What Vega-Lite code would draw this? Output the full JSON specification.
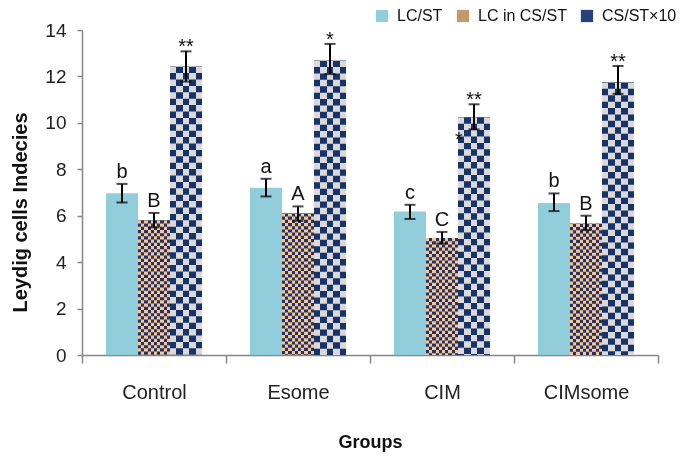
{
  "$schema": "https://vega.github.io/schema/vega-lite/v6.json",
  "width": 576,
  "height": 325,
  "autosize": "none",
  "padding": {"left": 82, "top": 30, "right": 27, "bottom": 102},
  "background": "white",
  "config": {
    "view": {"stroke": null},
    "font": "Liberation Sans"
  },
  "data": {
    "values": [
      {"Group": "Control", "Series": "LC/ST", "value": 6.97, "lower": 6.57, "upper": 7.37, "sig": "b"},
      {"Group": "Control", "Series": "LC in CS/ST", "value": 5.8, "lower": 5.5, "upper": 6.12, "sig": "B"},
      {"Group": "Control", "Series": "CS/ST×10", "value": 12.42, "lower": 11.78, "upper": 13.08, "sig": "**"},
      {"Group": "Esome", "Series": "LC/ST", "value": 7.21, "lower": 6.83, "upper": 7.59, "sig": "a"},
      {"Group": "Esome", "Series": "LC in CS/ST", "value": 6.1, "lower": 5.78, "upper": 6.4, "sig": "A"},
      {"Group": "Esome", "Series": "CS/ST×10", "value": 12.68, "lower": 12.1, "upper": 13.4, "sig": "*"},
      {"Group": "CIM", "Series": "LC/ST", "value": 6.18, "lower": 5.86, "upper": 6.47, "sig": "c"},
      {"Group": "CIM", "Series": "LC in CS/ST", "value": 5.04, "lower": 4.8, "upper": 5.3, "sig": "C"},
      {"Group": "CIM", "Series": "CS/ST×10", "value": 10.24, "lower": 9.72, "upper": 10.8, "sig": "**"},
      {"Group": "CIMsome", "Series": "LC/ST", "value": 6.55, "lower": 6.2, "upper": 6.96, "sig": "b"},
      {"Group": "CIMsome", "Series": "LC in CS/ST", "value": 5.65, "lower": 5.38, "upper": 6.0, "sig": "B"},
      {"Group": "CIMsome", "Series": "CS/ST×10", "value": 11.74, "lower": 11.25, "upper": 12.45, "sig": "**"}
    ]
  },
  "encoding": {
    "x": {
      "field": "Group", "type": "nominal", "sort": ["Control", "Esome", "CIM", "CIMsome"],
      "scale": {"paddingInner": 0, "paddingOuter": 0},
      "axis": {
        "title": "Groups", "labelAngle": 0, "tickBand": "extent",
        "domainColor": "#868686", "domainWidth": 1.5, "tickColor": "#868686", "tickSize": 8, "tickWidth": 1.5,
        "labelFont": "Liberation Sans", "labelFontSize": 20, "labelColor": "#222", "labelPadding": 19,
        "titleFont": "Liberation Sans", "titleFontSize": 18, "titleFontWeight": "bold", "titleColor": "#111", "titlePadding": 31
      }
    },
    "xOffset": {
      "field": "Series", "type": "nominal",
      "scale": {"domain": ["LC/ST", "LC in CS/ST", "CS/ST×10"], "paddingInner": 0, "paddingOuter": 0.75}
    }
  },
  "layer": [
    {
      "transform": [{"filter": "datum.Series === 'LC/ST'"}],
      "mark": {"type": "bar"},
      "encoding": {
        "y": {
          "field": "value", "type": "quantitative", "title": "Leydig cells Indecies",
          "scale": {"domain": [0, 14], "nice": false},
          "axis": {
            "title": "Leydig cells Indecies", "values": [0, 2, 4, 6, 8, 10, 12, 14], "grid": false,
            "domainColor": "#868686", "domainWidth": 1.5, "tickColor": "#868686", "tickSize": 5, "tickWidth": 1.5,
            "labelFont": "Liberation Sans", "labelFontSize": 19, "labelColor": "#222", "labelPadding": 11,
            "titleFont": "Liberation Sans", "titleFontSize": 20, "titleFontWeight": "bold", "titleColor": "#111",
            "titlePadding": 14, "titleY": 182
          }
        },
        "color": {
          "field": "Series", "type": "nominal",
          "scale": {"domain": ["LC/ST", "LC in CS/ST", "CS/ST×10"], "range": ["#92cddc", "#c39a6c", "#23427a"]},
          "legend": {
            "title": null, "orient": "none", "legendX": 292, "legendY": -22, "direction": "horizontal",
            "symbolType": "square", "symbolSize": 150, "symbolStrokeWidth": 0,
            "labelFont": "Liberation Sans", "labelFontSize": 16, "labelColor": "#111",
            "labelOffset": 7, "columnPadding": 12
          }
        }
      }
    },
    {
      "transform": [{"filter": "datum.Series === 'CS/ST×10'"}],
      "mark": {
        "type": "bar",
        "fill": {"gradient": "linear", "x1": 0, "y1": 0, "x2": 1, "y2": 0, "stops": [
          {"offset": 0, "color": "black"}, {"offset": 0.2, "color": "black"},
          {"offset": 0.2, "color": "white"}, {"offset": 0.4, "color": "white"},
          {"offset": 0.4, "color": "black"}, {"offset": 0.6, "color": "black"},
          {"offset": 0.6, "color": "white"}, {"offset": 0.8, "color": "white"},
          {"offset": 0.8, "color": "black"}, {"offset": 1, "color": "black"}
        ]}
      },
      "encoding": {"y": {"field": "value", "type": "quantitative", "title": "Leydig cells Indecies"}}
    },
    {
      "transform": [{"filter": "datum.Series === 'CS/ST×10'"}],
      "mark": {"type": "rule", "stroke": "white", "strokeWidth": 32, "strokeCap": "butt", "strokeDash": [6.4, 6.4], "blend": "difference"},
      "encoding": {"y": {"field": "value", "type": "quantitative", "title": "Leydig cells Indecies"}, "y2": {"datum": 0}}
    },
    {
      "transform": [{"filter": "datum.Series === 'CS/ST×10'"}],
      "mark": {"type": "bar", "fill": "#1d3b7b", "blend": "screen"},
      "encoding": {"y": {"field": "value", "type": "quantitative", "title": "Leydig cells Indecies"}}
    },
    {
      "transform": [{"filter": "datum.Series === 'CS/ST×10'"}],
      "mark": {"type": "bar", "fill": "#dadada", "blend": "multiply"},
      "encoding": {"y": {"field": "value", "type": "quantitative", "title": "Leydig cells Indecies"}}
    },
    {
      "transform": [{"filter": "datum.Series === 'LC in CS/ST'"}],
      "mark": {
        "type": "bar",
        "fill": {"gradient": "linear", "x1": 0, "y1": 0, "x2": 1, "y2": 0, "stops": [
          {"offset": 0, "color": "black"}, {"offset": 0.1, "color": "black"},
          {"offset": 0.1, "color": "white"}, {"offset": 0.2, "color": "white"},
          {"offset": 0.2, "color": "black"}, {"offset": 0.3, "color": "black"},
          {"offset": 0.3, "color": "white"}, {"offset": 0.4, "color": "white"},
          {"offset": 0.4, "color": "black"}, {"offset": 0.5, "color": "black"},
          {"offset": 0.5, "color": "white"}, {"offset": 0.6, "color": "white"},
          {"offset": 0.6, "color": "black"}, {"offset": 0.7, "color": "black"},
          {"offset": 0.7, "color": "white"}, {"offset": 0.8, "color": "white"},
          {"offset": 0.8, "color": "black"}, {"offset": 0.9, "color": "black"},
          {"offset": 0.9, "color": "white"}, {"offset": 1, "color": "white"}
        ]}
      },
      "encoding": {"y": {"field": "value", "type": "quantitative", "title": "Leydig cells Indecies"}}
    },
    {
      "transform": [{"filter": "datum.Series === 'LC in CS/ST'"}],
      "mark": {"type": "rule", "stroke": "white", "strokeWidth": 32, "strokeCap": "butt", "strokeDash": [3.2, 3.2], "blend": "difference"},
      "encoding": {"y": {"field": "value", "type": "quantitative", "title": "Leydig cells Indecies"}, "y2": {"datum": 0}}
    },
    {
      "transform": [{"filter": "datum.Series === 'LC in CS/ST'"}],
      "mark": {"type": "bar", "fill": "#2044b0", "blend": "screen"},
      "encoding": {"y": {"field": "value", "type": "quantitative", "title": "Leydig cells Indecies"}}
    },
    {
      "transform": [{"filter": "datum.Series === 'LC in CS/ST'"}],
      "mark": {"type": "bar", "fill": "#fac592", "blend": "multiply"},
      "encoding": {"y": {"field": "value", "type": "quantitative", "title": "Leydig cells Indecies"}}
    },
    {
      "mark": {"type": "errorbar", "ticks": true, "size": 11, "thickness": 2, "color": "black"},
      "encoding": {
        "y": {"field": "lower", "type": "quantitative", "title": "Leydig cells Indecies"},
        "y2": {"field": "upper"}
      }
    },
    {
      "transform": [{"filter": "datum.Series !== 'CS/ST×10'"}],
      "mark": {"type": "text", "font": "Liberation Sans", "fontSize": 20, "baseline": "alphabetic", "dy": -6, "color": "#111"},
      "encoding": {"y": {"field": "upper", "type": "quantitative", "title": "Leydig cells Indecies"}, "text": {"field": "sig"}}
    },
    {
      "transform": [{"filter": "datum.Series === 'CS/ST×10'"}],
      "mark": {"type": "text", "font": "Liberation Sans", "fontSize": 20, "baseline": "alphabetic", "dy": 2, "color": "#111"},
      "encoding": {"y": {"field": "upper", "type": "quantitative", "title": "Leydig cells Indecies"}, "text": {"field": "sig"}}
    },
    {
      "data": {"values": [{"Group": "CIM", "Series": "CS/ST×10", "pos": 9.0, "sig": "*"}]},
      "mark": {"type": "text", "font": "Liberation Sans", "fontSize": 20, "baseline": "alphabetic", "dx": -15, "color": "#111"},
      "encoding": {"y": {"field": "pos", "type": "quantitative", "title": "Leydig cells Indecies"}, "text": {"field": "sig"}}
    }
  ]
}
